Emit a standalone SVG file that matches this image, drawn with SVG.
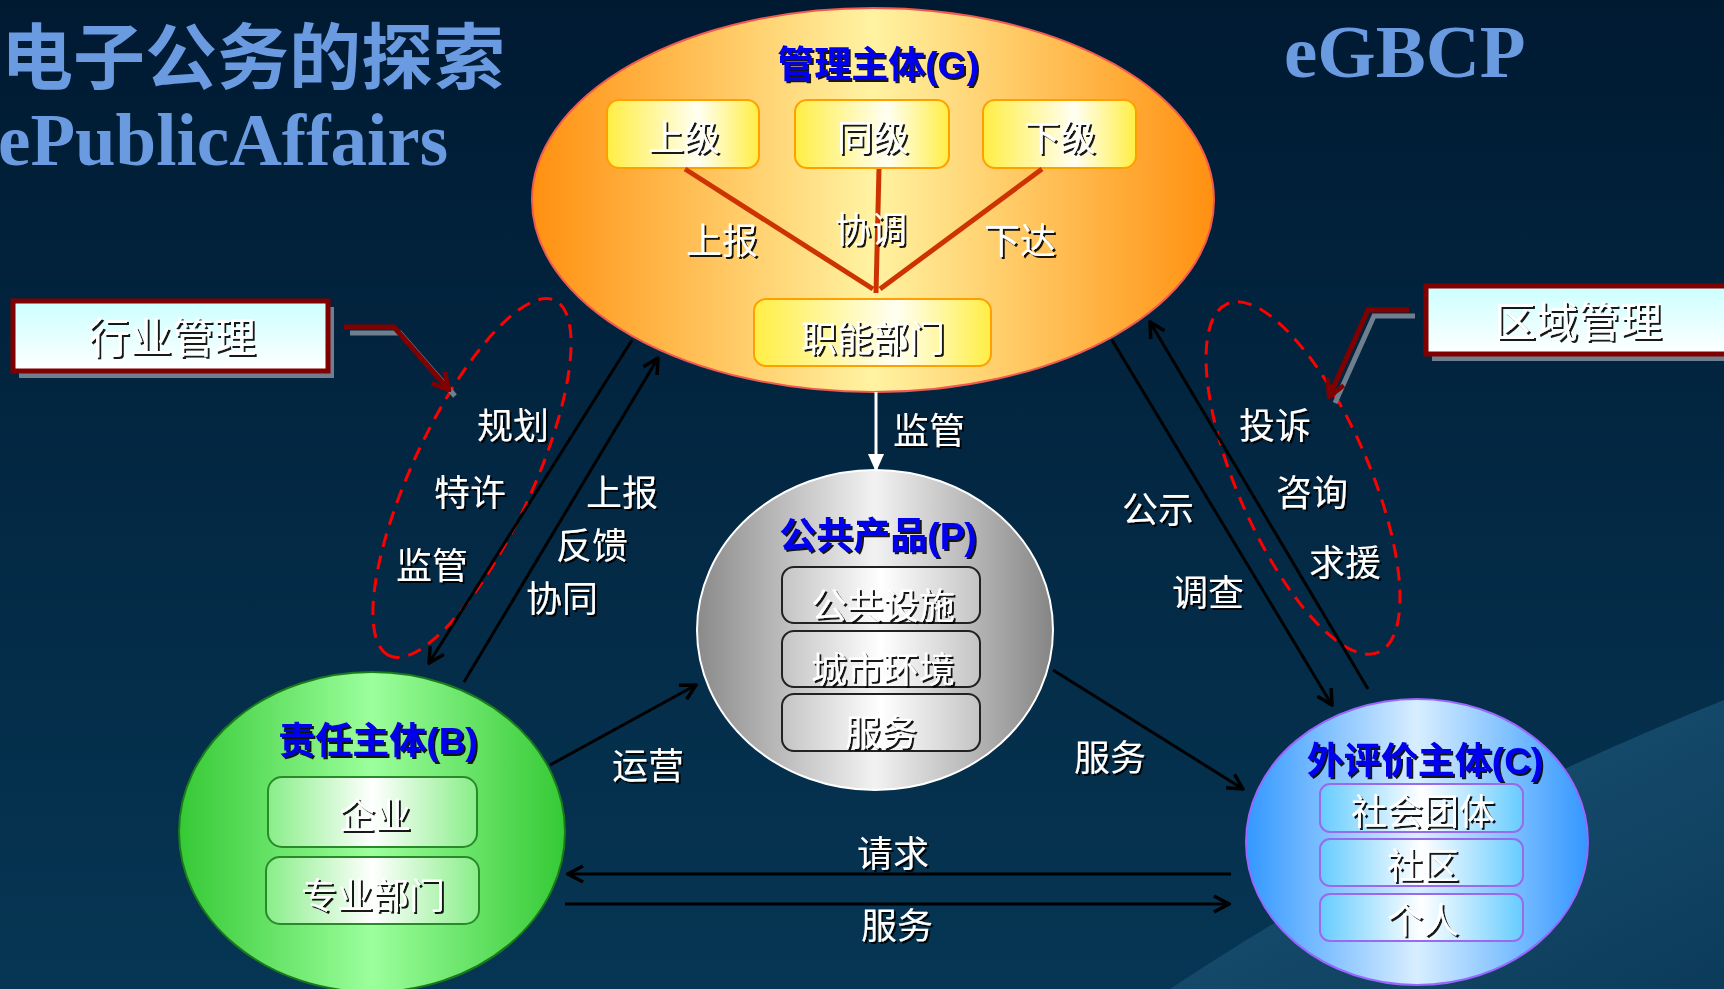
<svg xmlns="http://www.w3.org/2000/svg" width="1724" height="989" viewBox="0 0 1724 989">
<defs>
<linearGradient id="bg" x1="0" y1="0" x2="0" y2="1"><stop offset="0" stop-color="#001a32"/><stop offset="1" stop-color="#063654"/></linearGradient>
<linearGradient id="swoosh" x1="0" y1="0" x2="1" y2="1"><stop offset="0" stop-color="#1d5677"/><stop offset="1" stop-color="#0c3b5a"/></linearGradient>
<linearGradient id="gG" x1="0" y1="0" x2="1" y2="0"><stop offset="0" stop-color="#ff9010"/><stop offset="0.5" stop-color="#fff3a2"/><stop offset="1" stop-color="#ff9010"/></linearGradient>
<linearGradient id="gGbox" x1="0" y1="0" x2="1" y2="0"><stop offset="0" stop-color="#ffee44"/><stop offset="0.6" stop-color="#fffff2"/><stop offset="1" stop-color="#ffee44"/></linearGradient>
<linearGradient id="gP" x1="0" y1="0" x2="1" y2="0"><stop offset="0" stop-color="#8a8a8a"/><stop offset="0.5" stop-color="#f2f2f2"/><stop offset="1" stop-color="#858585"/></linearGradient>
<linearGradient id="gPbox" x1="0" y1="0" x2="1" y2="0"><stop offset="0" stop-color="#c4c4c4"/><stop offset="0.5" stop-color="#ffffff"/><stop offset="1" stop-color="#c4c4c4"/></linearGradient>
<linearGradient id="gB" x1="0" y1="0" x2="1" y2="0"><stop offset="0" stop-color="#35c935"/><stop offset="0.5" stop-color="#9cff9c"/><stop offset="1" stop-color="#35c935"/></linearGradient>
<linearGradient id="gBbox" x1="0" y1="0" x2="1" y2="0"><stop offset="0" stop-color="#88ee88"/><stop offset="0.5" stop-color="#ffffff"/><stop offset="1" stop-color="#88ee88"/></linearGradient>
<linearGradient id="gC" x1="0" y1="0" x2="1" y2="0"><stop offset="0" stop-color="#3398ff"/><stop offset="0.5" stop-color="#d8eeff"/><stop offset="1" stop-color="#3398ff"/></linearGradient>
<linearGradient id="gCbox" x1="0" y1="0" x2="1" y2="0"><stop offset="0" stop-color="#66ccff"/><stop offset="0.5" stop-color="#ffffff"/><stop offset="1" stop-color="#66ccff"/></linearGradient>
<linearGradient id="gCall" x1="0" y1="0" x2="0" y2="1"><stop offset="0" stop-color="#ccffff"/><stop offset="1" stop-color="#ffffff"/></linearGradient>
<filter id="sh" x="-10%" y="-20%" width="130%" height="150%"><feDropShadow dx="2" dy="2" stdDeviation="0.6" flood-color="#000" flood-opacity="0.9"/></filter>
<marker id="arr" viewBox="0 0 20 20" refX="18" refY="10" markerWidth="20" markerHeight="20" markerUnits="userSpaceOnUse" orient="auto"><path d="M3,2 L18,10 L3,18" fill="none" stroke="#000" stroke-width="3.5"/></marker>
<marker id="arrW" viewBox="0 0 20 20" refX="19" refY="10" markerWidth="18" markerHeight="18" markerUnits="userSpaceOnUse" orient="auto"><path d="M0,1 L20,10 L0,19 Z" fill="#fff"/></marker>
<marker id="arrR" viewBox="0 0 20 20" refX="18" refY="10" markerWidth="22" markerHeight="22" markerUnits="userSpaceOnUse" orient="auto"><path d="M3,2 L18,10 L3,18" fill="none" stroke="#800000" stroke-width="4"/></marker>
<style>
.lbl{font-family:"Noto Sans CJK SC","Liberation Sans",sans-serif;font-size:36px;fill:#fff;text-anchor:middle;filter:url(#sh)}
.ttl{font-family:"Liberation Sans","Noto Sans CJK SC",sans-serif;font-size:37px;font-weight:700;fill:#0000ee;text-anchor:middle;filter:url(#sh)}
.head{fill:#6a9be0;font-weight:700}
.ln{stroke:#000;stroke-width:3;fill:none}
.dash{fill:none;stroke:#ff0000;stroke-width:3;stroke-dasharray:14 9}
.red{stroke:#cc3300;stroke-width:5;fill:none}
</style>
</defs>
<rect width="1724" height="989" fill="url(#bg)"/>
<path d="M1170,989 C1320,890 1500,790 1724,700 L1724,989 Z" fill="url(#swoosh)"/>

<g id="titles">
<text x="1" y="83" class="head" font-family="Noto Sans CJK SC, sans-serif" font-size="72">电子公务的探索</text>
<text x="-2" y="165" class="head" font-family="Liberation Serif, serif" font-size="73">ePublicAffairs</text>
<text x="1284" y="77" class="head" font-family="Liberation Serif, serif" font-size="75">eGBCP</text>
</g>

<g id="annotations">
<ellipse cx="472" cy="478" rx="196" ry="60" transform="rotate(115 472 478)" class="dash"/>
<ellipse cx="1303" cy="478" rx="190" ry="66" transform="rotate(66.5 1303 478)" class="dash"/>
</g>

<g id="node-G">
<ellipse cx="873" cy="200" rx="341" ry="192" fill="url(#gG)" stroke="#f05a50" stroke-width="2"/>
<text x="878" y="78" class="ttl">管理主体(G)</text>
<rect x="607" y="100" width="152" height="68" rx="12" fill="url(#gGbox)" stroke="#ffa000" stroke-width="2"/>
<rect x="795" y="100" width="154" height="68" rx="12" fill="url(#gGbox)" stroke="#ffa000" stroke-width="2"/>
<rect x="983" y="100" width="153" height="68" rx="12" fill="url(#gGbox)" stroke="#ffa000" stroke-width="2"/>
<rect x="754" y="299" width="237" height="67" rx="12" fill="url(#gGbox)" stroke="#ffa000" stroke-width="2"/>
<line x1="685" y1="169" x2="873" y2="289" class="red"/>
<line x1="879" y1="169" x2="876" y2="293" class="red"/>
<line x1="1042" y1="169" x2="880" y2="289" class="red"/>
<text x="684" y="151" class="lbl">上级</text>
<text x="873" y="151" class="lbl">同级</text>
<text x="1060" y="151" class="lbl">下级</text>
<text x="722" y="254" class="lbl">上报</text>
<text x="871" y="243" class="lbl">协调</text>
<text x="1020" y="254" class="lbl">下达</text>
<text x="873" y="352" class="lbl">职能部门</text>
</g>

<g id="node-P">
<ellipse cx="875" cy="630" rx="178" ry="160" fill="url(#gP)" stroke="#ffffff" stroke-width="2"/>
<text x="878" y="549" class="ttl">公共产品(P)</text>
<rect x="782" y="567" width="198" height="56" rx="12" fill="url(#gPbox)" stroke="#222" stroke-width="2"/>
<rect x="782" y="631" width="198" height="56" rx="12" fill="url(#gPbox)" stroke="#222" stroke-width="2"/>
<rect x="782" y="694" width="198" height="57" rx="12" fill="url(#gPbox)" stroke="#222" stroke-width="2"/>
<text x="883" y="619" class="lbl">公共设施</text>
<text x="883" y="683" class="lbl">城市环境</text>
<text x="881" y="746" class="lbl">服务</text>
</g>

<g id="node-B">
<ellipse cx="372" cy="832" rx="193" ry="160" fill="url(#gB)" stroke="#1a7a1a" stroke-width="2"/>
<text x="378" y="754" class="ttl">责任主体(B)</text>
<rect x="268" y="777" width="209" height="70" rx="14" fill="url(#gBbox)" stroke="#2a8a2a" stroke-width="2"/>
<rect x="266" y="857" width="213" height="67" rx="14" fill="url(#gBbox)" stroke="#2a8a2a" stroke-width="2"/>
<text x="375" y="829" class="lbl">企业</text>
<text x="373" y="909" class="lbl">专业部门</text>
</g>

<g id="node-C">
<ellipse cx="1417" cy="842" rx="171" ry="143" fill="url(#gC)" stroke="#9966ff" stroke-width="2"/>
<text x="1425" y="774" class="ttl">外评价主体(C)</text>
<rect x="1320" y="784" width="203" height="48" rx="10" fill="url(#gCbox)" stroke="#9a6aee" stroke-width="2"/>
<rect x="1320" y="839" width="203" height="47" rx="10" fill="url(#gCbox)" stroke="#9a6aee" stroke-width="2"/>
<rect x="1320" y="894" width="203" height="47" rx="10" fill="url(#gCbox)" stroke="#9a6aee" stroke-width="2"/>
<text x="1423" y="825" class="lbl">社会团体</text>
<text x="1423" y="879" class="lbl">社区</text>
<text x="1423" y="934" class="lbl">个人</text>
</g>

<g id="callout-industry">
<rect x="19" y="307" width="315" height="71" fill="#6f7f8f"/>
<rect x="13" y="301" width="315" height="70" fill="url(#gCall)" stroke="#800000" stroke-width="5"/>
<polyline points="350,333 400,333 455,396" fill="none" stroke="#6f7f8f" stroke-width="5"/>
<polyline points="344,327 394,327 449,390" fill="none" stroke="#800000" stroke-width="5" marker-end="url(#arrR)"/>
<text x="172" y="353" class="lbl" style="font-size:42px">行业管理</text>
</g>

<g id="callout-region">
<rect x="1432" y="292" width="310" height="69" fill="#6f7f8f"/>
<rect x="1426" y="286" width="310" height="68" fill="url(#gCall)" stroke="#800000" stroke-width="5"/>
<polyline points="1415,316 1374,316 1335,403" fill="none" stroke="#6f7f8f" stroke-width="5"/>
<polyline points="1409,310 1368,310 1329,397" fill="none" stroke="#800000" stroke-width="5" marker-end="url(#arrR)"/>
<text x="1578" y="337" class="lbl" style="font-size:42px">区域管理</text>
</g>

<g id="connectors">
<line x1="876" y1="392" x2="876" y2="471" stroke="#fff" stroke-width="3" marker-end="url(#arrW)"/>
<line x1="632" y1="340" x2="429" y2="663" class="ln" marker-end="url(#arr)"/>
<line x1="464" y1="682" x2="658" y2="358" class="ln" marker-end="url(#arr)"/>
<line x1="1112" y1="340" x2="1332" y2="705" class="ln" marker-end="url(#arr)"/>
<line x1="1368" y1="689" x2="1150" y2="322" class="ln" marker-end="url(#arr)"/>
<line x1="550" y1="765" x2="696" y2="685" class="ln" marker-end="url(#arr)"/>
<line x1="1053" y1="670" x2="1243" y2="789" class="ln" marker-end="url(#arr)"/>
<line x1="1231" y1="874" x2="568" y2="874" class="ln" stroke-width="3.5" marker-end="url(#arr)"/>
<line x1="565" y1="904" x2="1229" y2="904" class="ln" stroke-width="3.5" marker-end="url(#arr)"/>
</g>

<g id="connector-labels">
<text x="929" y="444" class="lbl">监管</text>
<text x="513" y="439" class="lbl">规划</text>
<text x="470" y="506" class="lbl">特许</text>
<text x="432" y="579" class="lbl">监管</text>
<text x="622" y="506" class="lbl">上报</text>
<text x="592" y="559" class="lbl">反馈</text>
<text x="562" y="612" class="lbl">协同</text>
<text x="1275" y="439" class="lbl">投诉</text>
<text x="1312" y="506" class="lbl">咨询</text>
<text x="1345" y="576" class="lbl">求援</text>
<text x="1158" y="523" class="lbl">公示</text>
<text x="1208" y="606" class="lbl">调查</text>
<text x="648" y="779" class="lbl">运营</text>
<text x="1110" y="771" class="lbl">服务</text>
<text x="893" y="867" class="lbl">请求</text>
<text x="897" y="939" class="lbl">服务</text>
</g>
</svg>
